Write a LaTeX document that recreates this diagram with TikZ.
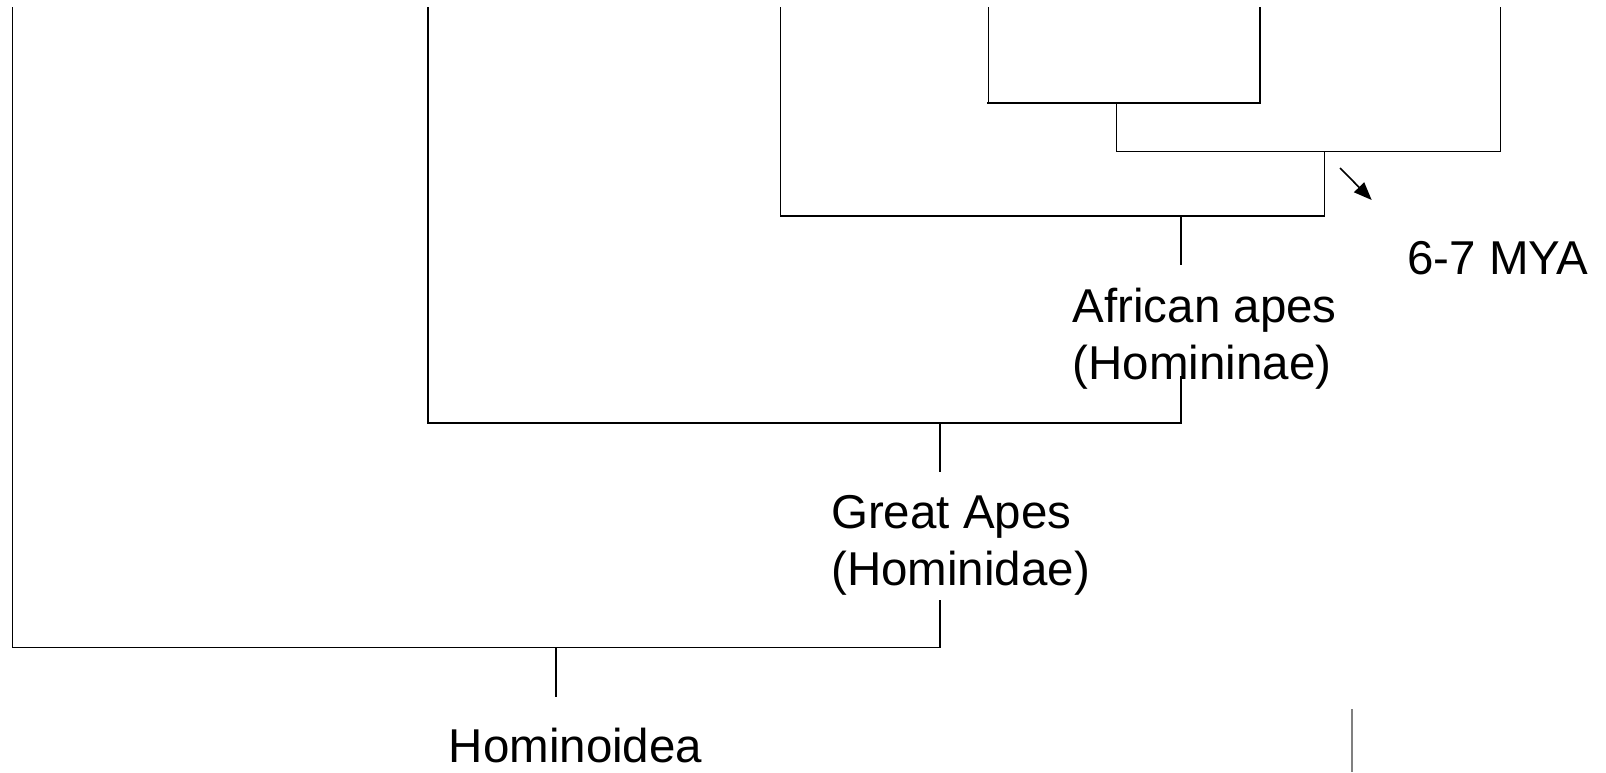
\documentclass[tikz,border=0pt]{standalone}
\usepackage{fontspec}
\setmainfont{Liberation Sans}
\usetikzlibrary{arrows.meta,positioning}

\begin{document}
\begin{tikzpicture}[
    x=1pt, y=-1pt,
    branch/.style={line width=1.5pt, line cap=rect},
    clade/.style={font=\fontsize{47.5}{57}\selectfont, align=left, inner sep=0pt, anchor=base west}
]
\useasboundingbox (0,0) rectangle (1606,772);

% tips of the tree
\foreach \n/\x in {la/12.3, lb/428.1, lc/780.4, ld/988.4, le/1259.8, lf/1500.5}
  \coordinate (\n) at (\x,8);

% junctions and stems
\coordinate (j5) at (1116.4,103.4);
\coordinate (j4) at (1324.3,151.6);
\coordinate (j3) at (1180.9,216.1);
\coordinate (s3) at (1180.9,264.2);
\coordinate (t3) at (1180.9,376.9);
\coordinate (j2) at (940.2,423);
\coordinate (s2) at (940.2,471.1);
\coordinate (t2) at (940.2,601.2);
\coordinate (j1) at (556.1,647.3);
\coordinate (s1) at (556.1,696.5);

\draw[branch] (ld) |- (j5) -| (le);
\draw[branch, line width=2pt] (ld |- j5) -- (le |- j5);
\draw[branch] (j5) |- (j4) -| (lf);
\draw[branch] (lc) |- (j3) -| (j4);
\draw[branch] (j3) -- (s3);
\draw[branch] (t3) |- (j2) -| (lb);
\draw[branch] (j2) -- (s2);
\draw[branch] (t2) |- (j1) -| (la);
\draw[branch] (j1) -- (s1);

% labels (base is the last line)
\node[clade] (homininae) at (1072.5,379.5) {African apes\\(Homininae)};
\node[clade] (hominidae) at (831,585.5) {Great Apes\\(Hominidae)};
\node[clade] (hominoidea) at (448.6,762) {Hominoidea};
\node[clade] (mya) at (1407,274.5) {6-7 MYA};

% arrow to the split
\coordinate (atail) at (1340,168);
\coordinate (ahead) at (1371.7,200);
\draw[-{Triangle[length=18pt,width=14pt]}, line width=1.6pt] (atail) -- (ahead);

% grey mark at the bottom
\coordinate (gtop) at (1351.7,709);
\coordinate (gbot) at (1351.7,772);
\draw[gray, line width=1.7pt] (gtop) -- (gbot);
\end{tikzpicture}
\end{document}
